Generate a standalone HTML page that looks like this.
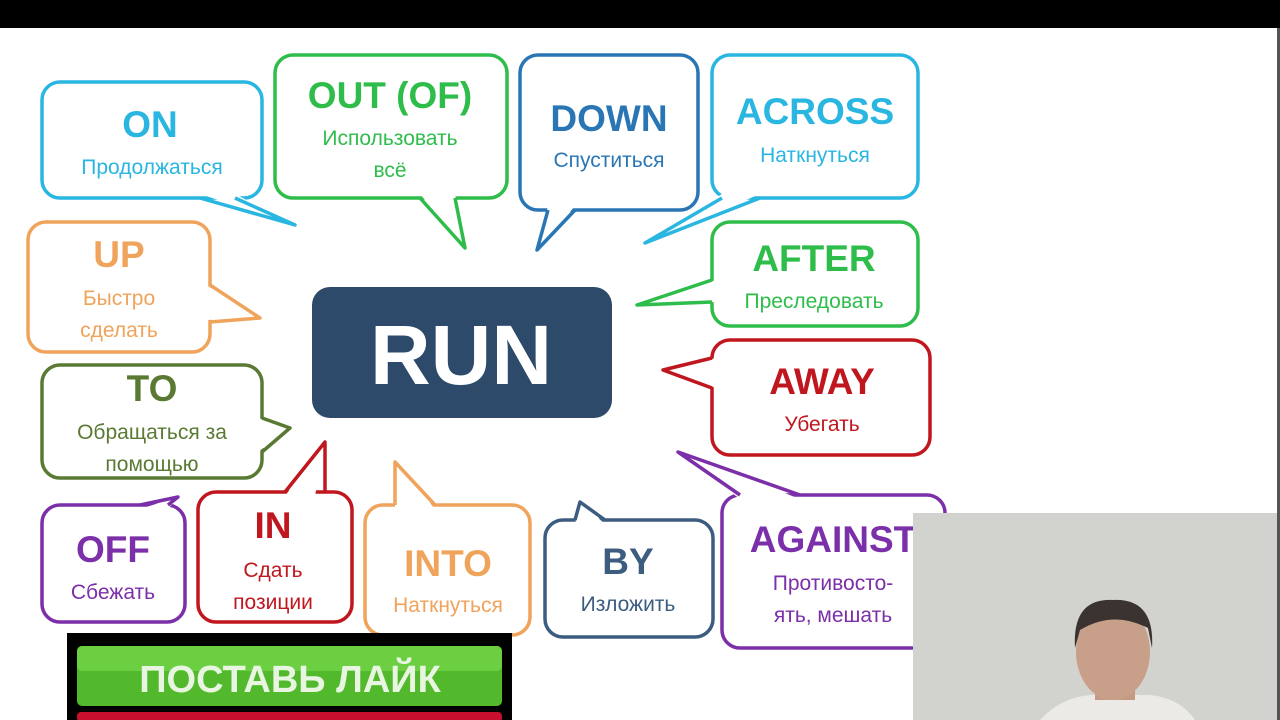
<!DOCTYPE html>
<html><head><meta charset="utf-8"><style>
body{margin:0;width:1280px;height:720px;overflow:hidden;background:#000}
svg{display:block}
text{font-family:"Liberation Sans","DejaVu Sans",sans-serif;text-anchor:middle}
.h{font-weight:bold;font-size:37px}
.s{font-size:21px}
</style></head><body>
<svg width="1280" height="720" viewBox="0 0 1280 720">
<rect x="0" y="0" width="1280" height="720" fill="#000"/>
<rect x="0" y="28" width="1280" height="692" fill="#fff"/>
<g stroke-width="3.5" fill="#fff" stroke-linejoin="round">
<rect x="42" y="82" width="220" height="116" rx="18" stroke="#29b6e0"/>
<polygon points="200,194 235,194 295,225" stroke="none"/><polyline points="200,198 295,225 235,198" fill="none" stroke="#29b6e0"/>
<rect x="275" y="55" width="232" height="143" rx="18" stroke="#2ebd4a"/>
<polygon points="420,194 455,194 465,248" stroke="none"/><polyline points="420,198 465,248 455,198" fill="none" stroke="#2ebd4a"/>
<rect x="520" y="55" width="178" height="155" rx="18" stroke="#2a76b5"/>
<polygon points="548,206 575,206 537,250" stroke="none"/><polyline points="548,210 537,250 575,210" fill="none" stroke="#2a76b5"/>
<rect x="712" y="55" width="206" height="143" rx="18" stroke="#29b6e0"/>
<polygon points="722,194 760,194 645,243" stroke="none"/><polyline points="722,198 645,243 760,198" fill="none" stroke="#29b6e0"/>
<rect x="28" y="222" width="182" height="130" rx="18" stroke="#f0a35a"/>
<polygon points="206,285 206,320 260,318" stroke="none"/><polyline points="210,285 260,318 210,322" fill="none" stroke="#f0a35a"/>
<rect x="712" y="222" width="206" height="104" rx="18" stroke="#2ebd4a"/>
<polygon points="716,280 716,302 637,305" stroke="none"/><polyline points="712,280 637,305 712,302" fill="none" stroke="#2ebd4a"/>
<rect x="712" y="340" width="218" height="115" rx="18" stroke="#c0171f"/>
<polygon points="716,358 716,388 663,370" stroke="none"/><polyline points="712,358 663,370 712,388" fill="none" stroke="#c0171f"/>
<rect x="42" y="365" width="220" height="113" rx="18" stroke="#5a7a33"/>
<polygon points="258,418 258,452 290,428" stroke="none"/><polyline points="262,418 290,428 262,452" fill="none" stroke="#5a7a33"/>
<rect x="42" y="505" width="143" height="117" rx="18" stroke="#7b2fa8"/>
<polygon points="140,509 168,509 178,497" stroke="none"/><polyline points="140,505 178,497 168,505" fill="none" stroke="#7b2fa8"/>
<rect x="198" y="492" width="154" height="130" rx="18" stroke="#c0171f"/>
<polygon points="285,496 315,496 325,442" stroke="none"/><polyline points="285,492 325,442 325,492" fill="none" stroke="#c0171f"/>
<rect x="365" y="505" width="165" height="130" rx="18" stroke="#f0a35a"/>
<polygon points="395,509 435,509 395,462" stroke="none"/><polyline points="395,505 395,462 435,505" fill="none" stroke="#f0a35a"/>
<rect x="545" y="520" width="168" height="117" rx="18" stroke="#3c5c80"/>
<polygon points="575,524 605,524 580,502" stroke="none"/><polyline points="575,520 580,502 605,520" fill="none" stroke="#3c5c80"/>
<rect x="722" y="495" width="223" height="153" rx="18" stroke="#7b2fa8"/>
<polygon points="740,499 800,499 678,452" stroke="none"/><polyline points="740,495 678,452 800,495" fill="none" stroke="#7b2fa8"/>
</g>
<rect x="312" y="287" width="300" height="131" rx="18" fill="#2d4a6b"/>
<text x="461" y="384" fill="#fff" style="font-weight:bold;font-size:84px">RUN</text>

<text class="h" x="150" y="137" fill="#29b6e0">ON</text>
<text class="s" x="152" y="174" fill="#29b6e0">Продолжаться</text>
<text class="h" x="390" y="108" fill="#2ebd4a">OUT (OF)</text>
<text class="s" x="390" y="145" fill="#2ebd4a">Использовать</text>
<text class="s" x="390" y="177" fill="#2ebd4a">всё</text>
<text class="h" x="609" y="131" fill="#2a76b5">DOWN</text>
<text class="s" x="609" y="167" fill="#2a76b5">Спуститься</text>
<text class="h" x="815" y="124" fill="#29b6e0">ACROSS</text>
<text class="s" x="815" y="162" fill="#29b6e0">Наткнуться</text>
<text class="h" x="119" y="267" fill="#f0a35a">UP</text>
<text class="s" x="119" y="305" fill="#f0a35a">Быстро</text>
<text class="s" x="119" y="337" fill="#f0a35a">сделать</text>
<text class="h" x="814" y="271" fill="#2ebd4a">AFTER</text>
<text class="s" x="814" y="308" fill="#2ebd4a">Преследовать</text>
<text class="h" x="822" y="394" fill="#c0171f">AWAY</text>
<text class="s" x="822" y="431" fill="#c0171f">Убегать</text>
<text class="h" x="152" y="401" fill="#5a7a33">TO</text>
<text class="s" x="152" y="439" fill="#5a7a33">Обращаться за</text>
<text class="s" x="152" y="471" fill="#5a7a33">помощью</text>
<text class="h" x="113" y="562" fill="#7b2fa8">OFF</text>
<text class="s" x="113" y="599" fill="#7b2fa8">Сбежать</text>
<text class="h" x="273" y="538" fill="#c0171f">IN</text>
<text class="s" x="273" y="577" fill="#c0171f">Сдать</text>
<text class="s" x="273" y="609" fill="#c0171f">позиции</text>
<text class="h" x="448" y="576" fill="#f0a35a">INTO</text>
<text class="s" x="448" y="612" fill="#f0a35a">Наткнуться</text>
<text class="h" x="628" y="574" fill="#3c5c80">BY</text>
<text class="s" x="628" y="611" fill="#3c5c80">Изложить</text>
<text class="h" x="833" y="552" fill="#7b2fa8">AGAINST</text>
<text class="s" x="833" y="590" fill="#7b2fa8">Противосто-</text>
<text class="s" x="833" y="622" fill="#7b2fa8">ять, мешать</text>

<rect x="913" y="513" width="367" height="207" fill="#d2d3ce"/>
<rect x="1277" y="28" width="3" height="692" fill="#555"/>
<path d="M1040,720 Q1060,698 1090,695 L1150,695 Q1180,698 1195,720 Z" fill="#eceae6"/>
<rect x="1095" y="670" width="40" height="30" fill="#c49a82"/>
<ellipse cx="1113" cy="652" rx="37" ry="48" fill="#c8a08a"/>
<path d="M1075,648 Q1072,598 1113,600 Q1155,598 1152,648 L1148,628 Q1113,610 1080,630 Z" fill="#3a3330"/>

<rect x="67" y="633" width="445" height="87" fill="#000"/>
<rect x="77" y="646" width="425" height="60" rx="5" fill="#52b82c"/>
<rect x="77" y="646" width="425" height="25" rx="5" fill="#6ccf42"/>
<text x="290" y="692" fill="#e8f5e0" style="font-weight:bold;font-size:38px">ПОСТАВЬ ЛАЙК</text>
<rect x="77" y="712" width="425" height="10" rx="4" fill="#c8102e"/>
</svg>
</body></html>
